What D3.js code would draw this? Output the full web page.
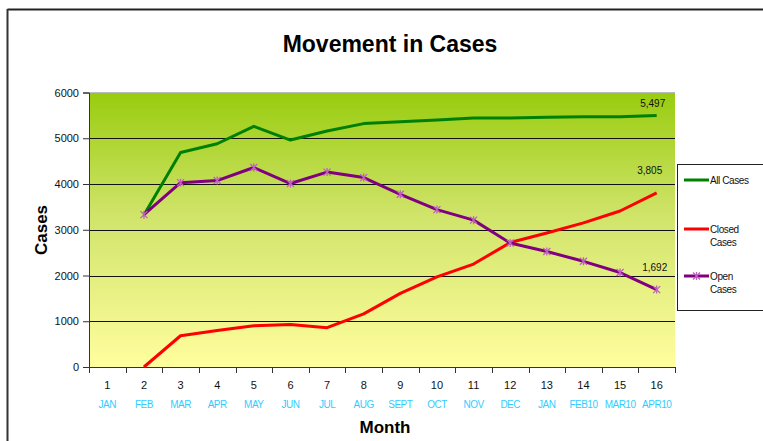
<!DOCTYPE html>
<html><head><meta charset="utf-8">
<script src="https://cdn.jsdelivr.net/npm/d3@7"></script>
<style>body{margin:0;background:#fff;} svg{display:block;font-family:Arial,"Liberation Sans",sans-serif;}</style>
</head><body>
<svg id="c" width="763" height="441"></svg>
<script>
const categories = [1,2,3,4,5,6,7,8,9,10,11,12,13,14,15,16];
const monthLabels = ["JAN","FEB","MAR","APR","MAY","JUN","JUL","AUG","SEPT","OCT","NOV","DEC","JAN","FEB10","MAR10","APR10"];
const allCases = [null,3320,4690,4880,5260,4960,5160,5320,5360,5400,5440,5445,5460,5470,5470,5497];
const closedCases = [null,0,683,800,900,930,860,1160,1610,1970,2250,2720,2930,3150,3410,3805];
const openCases = [null,3330,4030,4075,4360,4010,4260,4140,3775,3440,3210,2710,2525,2310,2065,1692];
const yTicks = [0,1000,2000,3000,4000,5000,6000];

const svg = d3.select("#c");
const L=89, R=675, T=92.5, B=367;
const x = d3.scaleBand().domain(categories).range([L,R]);
const y = d3.scaleLinear().domain([0,6000]).range([B,T]);

// outer frame
svg.append("line").attr("x1",7.5).attr("x2",763).attr("y1",9.5).attr("y2",9.5).attr("stroke","#222").attr("stroke-width",2);
svg.append("line").attr("x1",7.5).attr("x2",7.5).attr("y1",9).attr("y2",441).attr("stroke","#333").attr("stroke-width",2);

// gradient
const defs = svg.append("defs");
const g = defs.append("linearGradient").attr("id","bg").attr("x1",0).attr("y1",0).attr("x2",0).attr("y2",1);
g.append("stop").attr("offset","0%").attr("stop-color","#99cc0f");
g.append("stop").attr("offset","45%").attr("stop-color","#d0e46a");
g.append("stop").attr("offset","100%").attr("stop-color","#fffe9e");
svg.append("rect").attr("x",L).attr("y",T).attr("width",R-L).attr("height",B-T).attr("fill","url(#bg)");

svg.append("line").attr("x1",L).attr("x2",R).attr("y1",T).attr("y2",T).attr("stroke","#bbb").attr("stroke-width",1);
svg.append("g").selectAll("line").data(yTicks.filter(d=>d>0&&d<6000)).join("line")
  .attr("x1",L).attr("x2",R).attr("y1",d=>Math.round(y(d))+0.5).attr("y2",d=>Math.round(y(d))+0.5)
  .attr("stroke","#111").attr("stroke-width",1);

// y axis
const ya = svg.append("g").attr("transform",`translate(${L},0)`).call(d3.axisLeft(y).tickValues(yTicks).tickFormat(d3.format("d")).tickSize(6).tickPadding(4));
ya.select(".domain").attr("stroke","#333");
ya.selectAll("line").attr("stroke","#333");
ya.selectAll("text").attr("font-size",11).attr("fill","#111").attr("font-family","Arial,'Liberation Sans',sans-serif");

// x axis with boundary ticks
const xa = svg.append("g").attr("transform",`translate(0,${B})`);
xa.append("line").attr("x1",L).attr("x2",R).attr("y1",0.5).attr("y2",0.5).attr("stroke","#333");
const bounds = categories.map(c=>x(c)).concat([R]);
xa.selectAll("line.t").data(bounds).join("line").attr("class","t")
  .attr("x1",d=>Math.round(d)+0.5).attr("x2",d=>Math.round(d)+0.5).attr("y1",0).attr("y2",6).attr("stroke","#333");
xa.selectAll("text.n").data(categories).join("text").attr("class","n")
  .attr("x",d=>x(d)+x.bandwidth()/2).attr("y",22).attr("text-anchor","middle")
  .attr("font-size",11).attr("fill","#111").text(d=>d);
xa.selectAll("text.m").data(categories).join("text").attr("class","m")
  .attr("x",d=>x(d)+x.bandwidth()/2).attr("y",41).attr("text-anchor","middle")
  .attr("font-size",10).attr("fill","#33ccff").attr("letter-spacing","-0.5").text((d,i)=>monthLabels[i]);

// lines
const cx = d=>x(d)+x.bandwidth()/2;
const series = [
  {name:"All Cases", vals:allCases, color:"#008000", marker:false},
  {name:"Closed Cases", vals:closedCases, color:"#ff0000", marker:false},
  {name:"Open Cases", vals:openCases, color:"#800080", marker:true}
];
const line = d3.line().defined(d=>d.v!=null).x(d=>cx(d.c)).y(d=>y(d.v));
function star(sel, color){
  sel.each(function(){
    const s=d3.select(this);
    const r=3.5;
    s.append("path").attr("d",`M${-r},${-r}L${r},${r}M${-r},${r}L${r},${-r}M0,${-r-0.5}L0,${r+0.5}`)
      .attr("stroke",color).attr("stroke-width",1.3).attr("fill","none");
  });
}
series.forEach(s=>{
  const data = categories.map((c,i)=>({c, v:s.vals[i]}));
  svg.append("path").datum(data).attr("d",line).attr("fill","none").attr("stroke",s.color)
    .attr("stroke-width",3).attr("stroke-linejoin","round");
  if(s.marker){
    svg.append("g").selectAll("g").data(data.filter(d=>d.v!=null)).join("g")
      .attr("transform",d=>`translate(${cx(d.c)},${y(d.v)})`).call(star, "#c060c0");
  }
});

// data labels at last point
const fmt = d3.format(",");
const last = categories[categories.length-1];
[[allCases,-4,-9],[closedCases,-7,-19],[openCases,-2,-19]].forEach(([vals,dx,dy])=>{
  const v = vals[vals.length-1];
  svg.append("text").attr("x",cx(last)+dx).attr("y",y(v)+dy).attr("text-anchor","middle")
    .attr("font-size",10).attr("fill","#111").text(fmt(v));
});

// titles
svg.append("text").attr("x",390).attr("y",52).attr("text-anchor","middle").attr("font-size",23).attr("font-weight","bold").attr("fill","#000").text("Movement in Cases");
svg.append("text").attr("transform","translate(47,230) rotate(-90)").attr("text-anchor","middle").attr("font-size",17).attr("font-weight","bold").attr("fill","#000").text("Cases");
svg.append("text").attr("x",385).attr("y",433).attr("text-anchor","middle").attr("font-size",17).attr("font-weight","bold").attr("fill","#000").text("Month");

// legend
const lg = svg.append("g");
lg.append("rect").attr("x",677.5).attr("y",164.5).attr("width",90).attr("height",146).attr("fill","#fff").attr("stroke","#222").attr("stroke-width",1);
const legendItems = [
  {s:series[0], y:180, lines:["All Cases"]},
  {s:series[1], y:229, lines:["Closed","Cases"]},
  {s:series[2], y:276, lines:["Open","Cases"]}
];
legendItems.forEach(it=>{
  lg.append("line").attr("x1",684).attr("x2",709).attr("y1",it.y).attr("y2",it.y).attr("stroke",it.s.color).attr("stroke-width",3);
  if(it.s.marker){
    lg.append("g").attr("transform",`translate(696.5,${it.y})`).call(star,"#c060c0");
  }
  it.lines.forEach((t,i)=>{
    lg.append("text").attr("x",710).attr("y",it.y+4+i*13).attr("font-size",10).attr("fill","#111").attr("letter-spacing","-0.4").text(t);
  });
});
</script>
</body></html>
